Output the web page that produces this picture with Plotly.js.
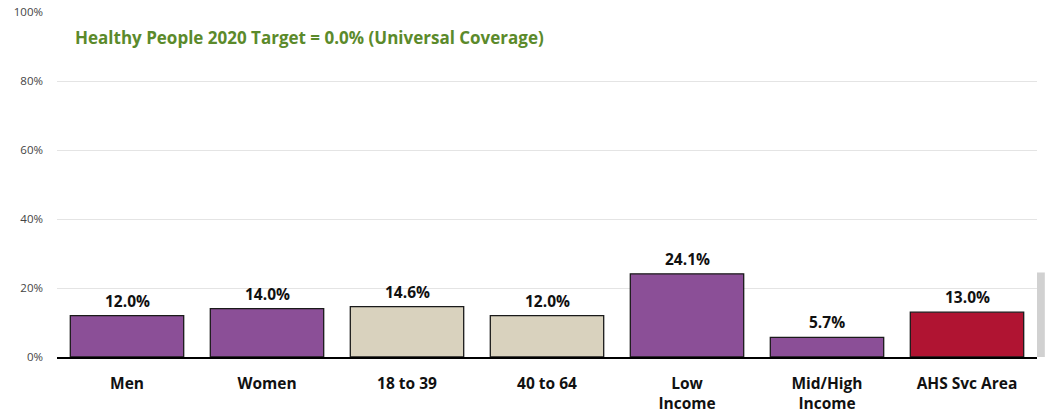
<!DOCTYPE html>
<html>
<head>
<meta charset="utf-8">
<script src="https://cdn.plot.ly/plotly-3.0.1.min.js"></script>
<style>html,body{margin:0;padding:0;background:#fff;}#chart{width:1047px;height:413px;}</style>
</head>
<body>
<div id="chart"></div>
<script>
const categories = ["Men", "Women", "18 to 39", "40 to 64", "Low<br>Income", "Mid/High<br>Income", "AHS Svc Area"];
const values = [12.0, 14.0, 14.6, 12.0, 24.1, 5.7, 13.0];
const barColors = ["#8B4F97", "#8B4F97", "#D9D2BE", "#D9D2BE", "#8B4F97", "#8B4F97", "#B01432"];
const yTickVals = [0, 20, 40, 60, 80, 100];
const yTickText = ["0%", "20%", "40%", "60%", "80%", "100%"];
const targetNote = "Healthy People 2020 Target = 0.0% (Universal Coverage)";

const trace = {
  type: "bar",
  x: categories,
  y: values,
  marker: {color: barColors, line: {color: "#1a1a1a", width: 1.3}},
  hoverinfo: "none"
};

const valueLabels = categories.map((c, i) => ({
  x: c, y: values[i], xref: "x", yref: "y",
  text: values[i].toFixed(1) + "%", showarrow: false,
  xanchor: "center", yanchor: "bottom", yshift: 2,
  font: {family: "Open Sans, sans-serif", size: 15.5, color: "#111", weight: "bold"}
}));

const layout = {
  width: 1047, height: 413,
  margin: {l: 57, r: 10, t: 12, b: 56},
  paper_bgcolor: "#fff", plot_bgcolor: "#fff",
  bargap: 0.19,
  showlegend: false,
  xaxis: {
    tickfont: {family: "Open Sans, sans-serif", size: 15.5, color: "#111", weight: "bold"},
    ticks: "", showgrid: false, showline: true, linecolor: "#000", linewidth: 1.5,
    ticklabelstandoff: 12
  },
  yaxis: {
    range: [0, 100], tickvals: yTickVals, ticktext: yTickText,
    tickfont: {family: "Open Sans, sans-serif", size: 11.5, color: "#444"},
    showgrid: true, gridcolor: "#e4e4e4", gridwidth: 1,
    zeroline: false, showline: false, ticks: "", ticklabelstandoff: 13
  },
  shapes: [{
    type: "rect", xref: "paper", yref: "paper", x0: 1.0, x1: 1.008, y0: 0, y1: 0.245,
    fillcolor: "rgba(0,0,0,0.18)", line: {width: 0}, layer: "below"
  }],
  annotations: [{
    text: targetNote, xref: "paper", yref: "y", x: 0.016, y: 92.5,
    xanchor: "left", yanchor: "middle", showarrow: false,
    font: {family: "Open Sans, sans-serif", size: 17, color: "#5B8A2B", weight: "bold"}
  }].concat(valueLabels)
};

Plotly.newPlot("chart", [trace], layout, {staticPlot: true, displayModeBar: false});
</script>
</body>
</html>
